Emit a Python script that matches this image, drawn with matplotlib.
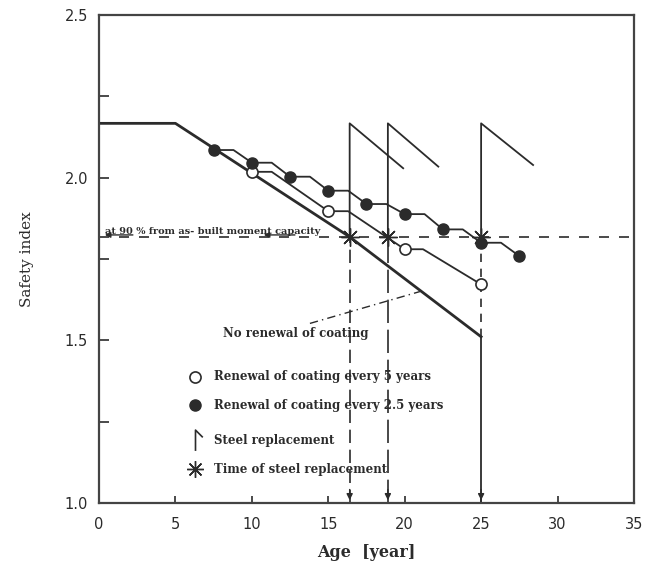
import matplotlib
matplotlib.use("Agg")
import matplotlib.pyplot as plt
from matplotlib.path import Path

# values (age in years, safety index)
no_renew_age = [0, 5, 16.4, 25]
no_renew_beta = [2.167, 2.167, 1.818, 1.511]

renew5_age = [10, 11.3, 15, 16.3, 20, 21.2, 25]
renew5_beta = [2.018, 2.018, 1.897, 1.897, 1.780, 1.780, 1.672]
renew5_mark_age = [10, 15, 20, 25]
renew5_mark_beta = [2.018, 1.897, 1.780, 1.672]

renew25_age = [7.5, 8.8, 10, 11.3, 12.5, 13.8, 15, 16.3, 17.5, 18.8,
               20, 21.3, 22.5, 23.8, 25, 26.3, 27.5]
renew25_beta = [2.085, 2.085, 2.046, 2.046, 2.003, 2.003, 1.960, 1.960, 1.919, 1.919,
                1.888, 1.888, 1.841, 1.841, 1.800, 1.800, 1.759]
renew25_mark_age = [7.5, 10, 12.5, 15, 17.5, 20, 22.5, 25, 27.5]
renew25_mark_beta = [2.085, 2.046, 2.003, 1.960, 1.919, 1.888, 1.841, 1.800, 1.759]

replace_age = [16.4, 18.9, 25.0]
replace_top = 2.167
replace_end_age = [19.9, 22.2, 28.4]
replace_end_beta = [2.029, 2.034, 2.039]

threshold = 1.818
threshold_text = "at 90 % from as- built moment capacity"

leader_age = [13.8, 21.0]
leader_beta = [1.552, 1.650]

legend_labels = ["Renewal of coating every 5 years",
                 "Renewal of coating every 2.5 years",
                 "Steel replacement",
                 "Time of steel replacement"]
legend_rows = [1.388, 1.300, 1.193, 1.103]

x_ticks = [0, 5, 10, 15, 20, 25, 30, 35]
y_ticks = [1.0, 1.5, 2.0, 2.5]
y_minor = [1.25, 1.75, 2.25]

ink = "#2b2b2b"
serif_bold = dict(family="DejaVu Serif", weight="bold", color=ink)

fig = plt.figure(figsize=(6.56, 5.71), dpi=100)
ax = fig.add_axes([0.1509, 0.1191, 0.8155, 0.8546])

# main curves
ax.plot(no_renew_age, no_renew_beta, color=ink, lw=2.0)
ax.plot(renew5_age, renew5_beta, color=ink, lw=1.3)
ax.plot(renew25_age, renew25_beta, color=ink, lw=1.3)
ax.plot(renew5_mark_age, renew5_mark_beta, "o", ms=8, mfc="white", mec=ink, mew=1.2, zorder=5)
ax.plot(renew25_mark_age, renew25_mark_beta, "o", ms=8, mfc=ink, mec=ink, zorder=5)

# threshold line and its arrows
ax.plot([0, 35], [threshold, threshold], color=ink, lw=1.2, ls=(0, (6, 6)))
ax.text(0.4, threshold + 0.004, threshold_text, fontsize=7, va="bottom", **serif_bold)
ax.annotate("", xy=(0.2, threshold + 0.006), xytext=(2.4, threshold + 0.006),
            arrowprops=dict(arrowstyle="-|>", color=ink, lw=1.0, mutation_scale=8))
ax.annotate("", xy=(10.6, threshold + 0.006), xytext=(13.0, threshold + 0.006),
            arrowprops=dict(arrowstyle="-|>", color=ink, lw=1.0, mutation_scale=8))

# steel replacement saw teeth
for i, x in enumerate(replace_age):
    ax.plot([x, x, replace_end_age[i]], [threshold, replace_top, replace_end_beta[i]],
            color=ink, lw=1.3)
ax.plot([replace_age[0]] * 2, [1.0, threshold], color=ink, lw=1.2, ls=(0, (8, 4)))
ax.plot([replace_age[1]] * 2, [1.0, threshold], color=ink, lw=1.2, ls=(0, (14, 4)))
ax.plot([replace_age[2]] * 2, [no_renew_beta[-1], threshold], color=ink, lw=1.2, ls=(0, (5, 4)))
ax.plot([replace_age[2]] * 2, [1.0, no_renew_beta[-1]], color=ink, lw=1.3)
for x in replace_age:
    ax.annotate("", xy=(x, 1.0), xytext=(x, 1.05),
                arrowprops=dict(arrowstyle="-|>", color=ink, lw=1.0, mutation_scale=9))
ax.plot(replace_age, [threshold] * 3, ls="none", marker=(8, 2, 0), ms=13, mec=ink, mew=1.0, zorder=6)

# dash-dot leader to the no-renewal line
ax.plot(leader_age, leader_beta, color=ink, lw=1.0, ls=(0, (6, 3, 1, 3)))
ax.text(8.1, 1.52, "No renewal of coating", fontsize=8.5, va="center", **serif_bold)

# hand-made legend
steel_mark = Path([(0, -1), (0, 1), (0.7, 0.3)], [Path.MOVETO, Path.LINETO, Path.LINETO])
ax.plot([6.3], [legend_rows[0]], "o", ms=8, mfc="white", mec=ink, mew=1.2)
ax.plot([6.3], [legend_rows[1]], "o", ms=8, mfc=ink, mec=ink)
ax.plot([6.3], [legend_rows[2]], ls="none", marker=steel_mark, ms=15, mfc="none", mec=ink, mew=1.2)
ax.plot([6.3], [legend_rows[3]], ls="none", marker=(8, 2, 0), ms=12, mec=ink, mew=1.0)
for label, y in zip(legend_labels, legend_rows):
    ax.text(7.5, y, label, fontsize=8.5, va="center", **serif_bold)

# axes styling
ax.set_xlim(0, 35)
ax.set_ylim(1.0, 2.5)
ax.set_xticks(x_ticks)
ax.set_yticks(y_ticks)
ax.set_yticks(y_minor, minor=True)
ax.set_xticklabels([str(t) for t in x_ticks], fontsize=10.5, color=ink)
ax.set_yticklabels(["%.1f" % t for t in y_ticks], fontsize=10.5, color=ink)
ax.tick_params(axis="x", direction="in", length=5, width=1.2, pad=10, colors=ink)
ax.tick_params(axis="y", which="both", direction="in", length=7, width=1.2, pad=8, colors=ink)
for s in ax.spines.values():
    s.set_linewidth(1.6)
    s.set_color("#444444")

ax.set_ylabel("Safety index", family="DejaVu Serif", fontsize=11, color=ink, labelpad=22)
fig.text(0.558, 0.033, "Age  [year]", ha="center", va="center", fontsize=11.5, **serif_bold)

fig.savefig("out.png", dpi=100)
